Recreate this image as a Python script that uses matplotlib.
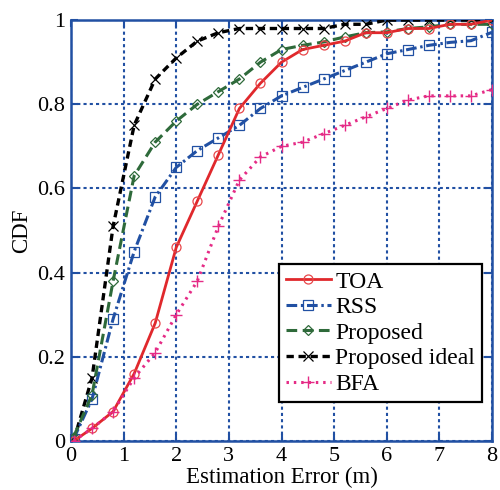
import matplotlib
matplotlib.use("Agg")
import matplotlib.pyplot as plt

plt.rcParams['font.family'] = ['Liberation Serif', 'DejaVu Serif']
plt.rcParams['mathtext.fontset'] = 'stix'

x = [0.05, 0.4, 0.8, 1.2, 1.6, 2.0, 2.4, 2.8, 3.2, 3.6, 4.0,
     4.4, 4.8, 5.2, 5.6, 6.0, 6.4, 6.8, 7.2, 7.6, 8.0]

toa = [0.0, 0.03, 0.07, 0.16, 0.28, 0.46, 0.57, 0.68, 0.79, 0.85, 0.90,
       0.93, 0.94, 0.95, 0.97, 0.97, 0.98, 0.98, 0.99, 0.99, 1.0]
rss = [0.005, 0.10, 0.29, 0.45, 0.58, 0.65, 0.69, 0.72, 0.75, 0.79, 0.82,
       0.84, 0.86, 0.88, 0.90, 0.92, 0.93, 0.94, 0.947, 0.951, 0.971]
proposed = [0.01, 0.11, 0.38, 0.63, 0.71, 0.76, 0.80, 0.83, 0.86, 0.90, 0.93,
            0.94, 0.948, 0.96, 0.97, 0.972, 0.98, 0.984, 0.99, 0.99, 0.99]
ideal = [0.0, 0.15, 0.51, 0.75, 0.86, 0.91, 0.95, 0.97, 0.98, 0.98, 0.98,
         0.98, 0.98, 0.99, 0.99, 1.0, 1.0, 1.0, 1.0, 1.0, 1.0]
bfa = [0.0, 0.03, 0.07, 0.15, 0.21, 0.30, 0.38, 0.51, 0.62, 0.675, 0.70,
       0.71, 0.73, 0.75, 0.77, 0.79, 0.81, 0.82, 0.82, 0.82, 0.835]

labels = ['TOA', 'RSS', 'Proposed', 'Proposed ideal', 'BFA']

blue = '#2150a3'
fig = plt.figure(figsize=(5.0, 4.9), dpi=100)
ax = fig.add_axes([0.142, 0.1, 0.842, 0.859])

ax.plot(x, toa, color='#e0282c', lw=2.0, ls='-', marker='o', ms=6.5,
        mfc='none', mec='#e8474a', mew=0.9, label=labels[0], zorder=5)
ax.plot(x, rss, color=blue, lw=2.2, ls=(0, (3.5, 1.2, 0.8, 1.2)), marker='s', ms=6.5,
        mfc='none', mec=blue, mew=0.9, label=labels[1], zorder=4)
ax.plot(x, proposed, color='#2e6a3a', lw=2.2, ls=(0, (3.5, 1.8)), marker='D', ms=5,
        mfc='none', mec='#2e6a3a', mew=0.9, label=labels[2], zorder=4)
ax.plot(x, ideal, color='black', lw=2.4, ls=(0, (2.2, 1.4)), marker='x', ms=6.5,
        mfc='none', mec='black', mew=0.9, label=labels[3], zorder=3)
ax.plot(x, bfa, color='#e52b86', lw=2.2, ls=(0, (0.8, 1.6)), marker='+', ms=9,
        mec='#e52b86', mew=1.0, label=labels[4], zorder=6)

ax.set_xlim(0, 8)
ax.set_ylim(0, 1)
ax.set_xticks(range(0, 9))
ax.set_yticks([0, 0.2, 0.4, 0.6, 0.8, 1.0])
ax.set_yticklabels(['0', '0.2', '0.4', '0.6', '0.8', '1'])
ax.grid(True, color=blue, ls=(0, (1.5, 1.5)), lw=1.5)
ax.set_axisbelow(True)
for s in ax.spines.values():
    s.set_color(blue)
    s.set_linewidth(1.8)
ax.tick_params(direction='in', length=5, width=1.5, color=blue, labelsize=16,
               top=True, right=True, pad=4)

ax.set_xlabel('Estimation Error (m)', fontsize=16.5, labelpad=1)
ax.set_ylabel('CDF', fontsize=16.5, labelpad=4)

leg = ax.legend(loc='lower right', bbox_to_anchor=(0.977, 0.093), fontsize=17,
                frameon=True, fancybox=False, framealpha=1, edgecolor='black',
                handlelength=1.9, handletextpad=0.2, labelspacing=0.17,
                borderpad=0.3, borderaxespad=0)
leg.get_frame().set_linewidth(1.6)

fig.savefig('out.png', dpi=100)
